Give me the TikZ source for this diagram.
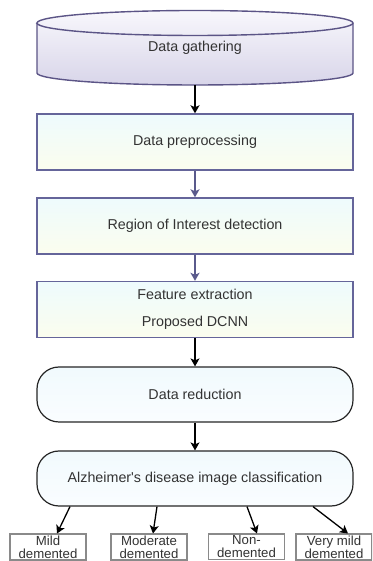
\documentclass[tikz,border=0pt]{standalone}
\usepackage{fontspec}
\setmainfont{Liberation Sans}
\usetikzlibrary{arrows.meta}
\definecolor{cylline}{HTML}{5B5486}
\definecolor{cyltop}{HTML}{F8F7FC}
\definecolor{cylbot}{HTML}{D8D5E9}
\definecolor{boxline}{HTML}{65659A}
\definecolor{boxtop}{HTML}{EEFBFD}
\definecolor{boxbot}{HTML}{FBFDEE}
\definecolor{roundtop}{HTML}{F1FAFD}
\definecolor{roundbot}{HTML}{FAFDFF}
\definecolor{txt}{HTML}{333333}
\definecolor{outline}{HTML}{8A8A8A}
\definecolor{flowpurple}{HTML}{5A5A8C}
\begin{document}
\begin{tikzpicture}[x=1bp,y=1bp,
    every node/.style={font=\fontsize{14.3bp}{17bp}\selectfont,text=txt},
    procbox/.style={draw=boxline,line width=1.4bp,top color=boxtop,bottom color=boxbot,
        minimum width=316bp,minimum height=56bp},
    roundbox/.style={draw=black!85,line width=1.2bp,rounded corners=22bp,top color=roundtop,
        bottom color=roundbot,minimum width=316bp,minimum height=55bp},
    classbox/.style={draw=outline,line width=1.4bp,fill=white,anchor=north,minimum width=76bp,
        inner ysep=1.5bp,align=center,font=\fontsize{13.2bp}{13bp}\selectfont},
    flow/.style={-{Stealth[length=8bp,width=9bp,inset=2bp]},line width=1.3bp}]
    \clip (0,0) rectangle (372,561);
    % database cylinder
    \draw[cylline,line width=1.4bp,top color=cyltop,bottom color=cylbot]
        (37,538) -- (37,488) arc[start angle=180,end angle=360,x radius=158bp,y radius=12bp]
        -- (353,538) arc[start angle=0,end angle=180,x radius=158bp,y radius=12.5bp] -- cycle;
    \draw[cylline,line width=1.4bp] (37,538)
        arc[start angle=180,end angle=360,x radius=158bp,y radius=12.5bp];
    \node (gather) at (195,513) {Data gathering};
    \coordinate (gatherbase) at (195,476);
    % pipeline
    \node[procbox] (prep) at (195,419) {Data preprocessing};
    \node[procbox] (roi) at (195,335) {Region of Interest detection};
    \node[procbox,align=center] (feat) at (195,251.5) {Feature extraction\\[10bp]Proposed DCNN};
    \node[roundbox] (reduce) at (195,166.5) {Data reduction};
    \node[roundbox] (classify) at (195,82.5) {Alzheimer\textquotesingle s disease image classification};
    % classes
    \node[classbox] (mild) at (48,27.5) {Mild\\demented};
    \node[classbox] (moderate) at (149,27.5) {Moderate\\demented};
    \node[classbox] (non) at (246.5,27.5) {Non-\\demented};
    \node[classbox] (verymild) at (334,27.5) {Very mild\\demented};
    \draw[flow] (gatherbase) -- (prep);
    \draw[flow,flowpurple] (prep) -- (roi);
    \draw[flow,flowpurple] (roi) -- (feat);
    \draw[flow] (feat) -- (reduce);
    \draw[flow] (reduce) -- (classify);
    \draw[flow] ([xshift=-125bp]classify.south) -- ([xshift=9bp]mild.north);
    \draw[flow] ([xshift=-38bp]classify.south) -- ([xshift=4bp]moderate.north);
    \draw[flow] ([xshift=52bp]classify.south) -- ([xshift=10.5bp]non.north);
    \draw[flow] ([xshift=118bp]classify.south) -- ([xshift=14bp]verymild.north);
\end{tikzpicture}
\end{document}
